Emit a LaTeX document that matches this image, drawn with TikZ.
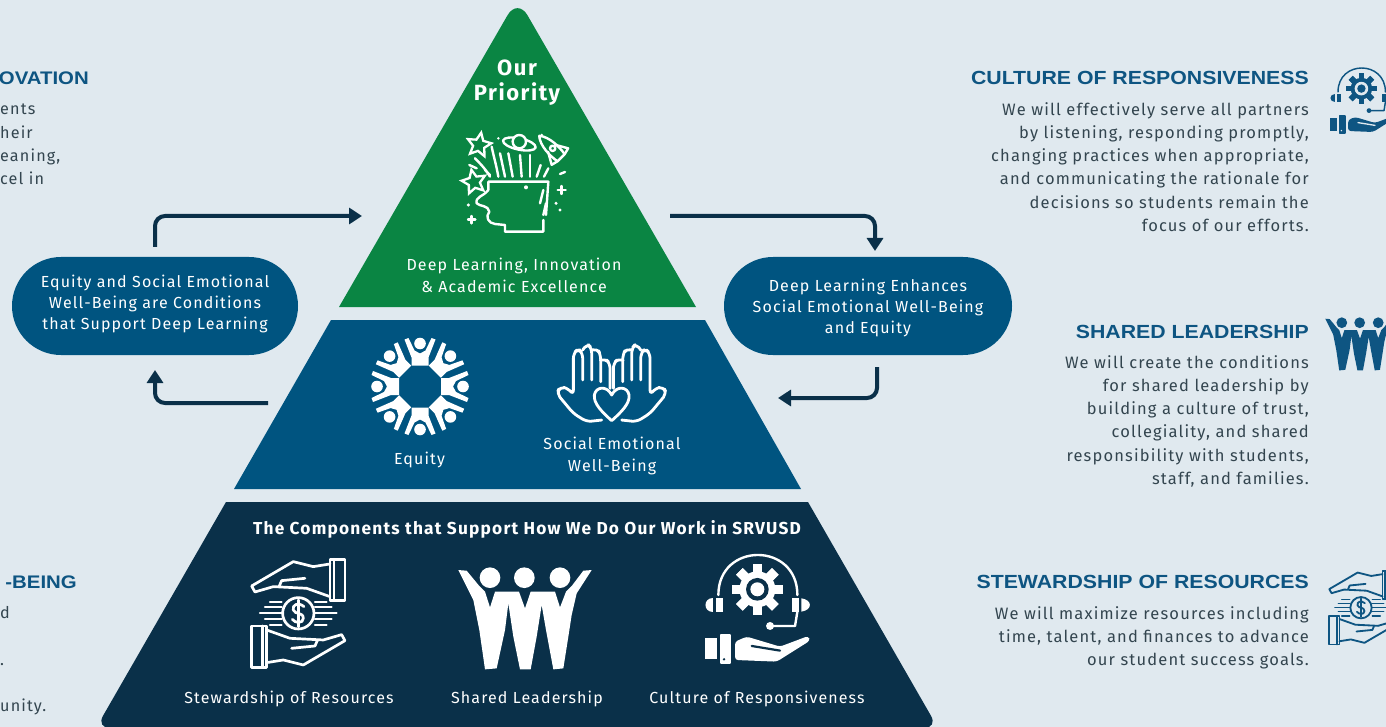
\documentclass[tikz,border=0pt]{standalone}
\usepackage{fontspec}
\usetikzlibrary{arrows.meta,shapes.geometric}
\setmainfont{Fira Sans}[LetterSpace=7]
\newfontfamily\headfont{Liberation Sans}[FakeStretch=1.12]
\definecolor{bgc}{HTML}{E0E9EF}
\definecolor{greenc}{HTML}{0A8543}
\definecolor{bluec}{HTML}{005480}
\definecolor{navyc}{HTML}{0A3049}
\definecolor{headc}{HTML}{0E5582}
\definecolor{bodyc}{HTML}{33454F}
\tikzset{
  headtxt/.style={anchor=base east,inner sep=0pt,text=headc,font=\headfont\bfseries\fontsize{19}{22}\selectfont},
  bodytxt/.style={anchor=north east,inner sep=0pt,align=right,text=bodyc,font=\fontsize{16.5}{23.3}\selectfont},
  fragtxt/.style={anchor=base west,inner sep=0pt,text=bodyc,font=\fontsize{16.2}{23.3}\selectfont},
  lefthead/.style={anchor=base east,inner sep=0pt,text=headc,font=\headfont\bfseries\fontsize{18.2}{22}\selectfont},
  pilltxt/.style={align=center,text=white,inner sep=0pt,font=\fontsize{16}{21}\selectfont},
  wtxt/.style={align=center,text=white,inner sep=0pt,font=\fontsize{16}{22.5}\selectfont},
  pill/.style={fill=bluec,rounded corners=49pt,minimum height=98pt,inner sep=0pt},
  flow/.style={draw=navyc,line width=4pt,rounded corners=10pt,-{Triangle[length=13pt,width=16pt]}},
  ic/.style={line cap=round,line join=round},
  whitestar/.style={star,star points=5,star point ratio=2.1,draw=white,line width=2.3pt,inner sep=0pt,minimum size=25pt}
}
% #1 cx #2 cy #3 scale #4 colour #5 background
\newcommand{\moneyicon}[5]{%
\begin{scope}[shift={(#1,#2)},scale={#3/3},shift={(-205,-190)},ic,draw=#4,line width={#3*2.7pt}]
 \foreach \r in {0,180}{
 \begin{scope}[rotate around={\r:(205,190)}]
  \draw (300,28) rectangle (345,152) (312,28) -- (312,152);
  \draw (300,42) -- (250,50) -- (190,35) -- (65,108) -- (75,126) -- (130,110) -- (230,115) -- (300,140);
  \draw (148,108) -- (155,92) -- (225,85);
 \end{scope}}
 \foreach \y/\l in {155/120,172/105,190/90,208/105,226/120}{
  \draw[line width={#3*2.1pt}] (\l,\y) -- (155,\y) (255,\y) -- (410-\l,\y);}
 \draw (205,190) circle[radius=47];
 \draw (222,170) .. controls (205,155) and (185,165) .. (190,180) .. controls (195,195) and (220,185) .. (220,205) .. controls (220,222) and (195,220) .. (187,208);
 \draw (205,150) -- (205,230);
\end{scope}}
\newcommand{\peopleicon}[5]{%
\begin{scope}[shift={(#1,#2)},scale={#3/3},shift={(-255,-200)}]
 \fill[#4] (55,60) -- (80,62) -- (118,108) -- (135,125) -- (150,172) -- (165,125) -- (237,125) -- (255,175) -- (272,125) -- (345,125) -- (360,172) -- (378,125) -- (395,108) -- (430,62) -- (455,60) -- (410,130) -- (395,195) -- (385,260) -- (370,355) -- (340,358) -- (318,240) -- (305,165) -- (290,260) -- (272,358) -- (240,358) -- (220,260) -- (205,160) -- (195,240) -- (170,355) -- (135,358) -- (118,240) -- (100,150) -- cycle;
 \fill[#4] (150,83) circle[radius=31] (253,83) circle[radius=31] (360,83) circle[radius=31];
\end{scope}}
\newcommand{\headseticon}[5]{%
\begin{scope}[shift={(#1,#2)},scale={#3/3},shift={(-950,-175)},ic]
 \draw[#4,line width={#3*2.4pt}] (835,135) .. controls (835,-25) and (1072,-25) .. (1072,135);
 \foreach \a in {0,45,...,315}{
  \fill[#4,rotate around={\a:(952,118)}] (938,42) rectangle (966,194);}
 \fill[#4] (952,118) circle[radius=54];
 \fill[#5] (952,118) circle[radius=34];
 \fill[#4] (952,118) circle[radius=21];
 \fill[#4] (828,145) rectangle (850,185);
 \fill[#4] (820,145) .. controls (790,145) and (790,185) .. (820,185) -- cycle;
 \fill[#4] (1055,145) rectangle (1077,185);
 \fill[#4] (1084,145) .. controls (1118,150) and (1118,180) .. (1084,185) -- cycle;
 \draw[#4,line width={#3*2.4pt}] (1072,185) -- (1065,228) -- (990,228);
 \fill[#4] (990,228) circle[radius=12];
 \fill[#4] (795,265) rectangle (832,328);
 \draw[#4,line width={#3*2pt},fill=#4] (842,255) rectangle (870,340);
 \fill[#5] (852,328) circle[radius=4];
 \fill[#4,rounded corners=3pt] (885,275) -- (920,260) -- (1020,290) -- (1105,258) -- (1110,272) -- (1010,335) -- (885,330) -- cycle;
 \draw[#5,line width={#3*2.2pt}] (935,288) -- (1020,302);
\end{scope}}
\begin{document}
\begin{tikzpicture}[x=1pt,y=-1pt]
\useasboundingbox (0,0) rectangle (1386,727);
\clip (0,0) rectangle (1386,727);
\fill[bgc] (0,0) rectangle (1386,727);
% pyramid
\fill[greenc] (339,307) [rounded corners=20pt] -- (517.5,-2) [sharp corners] -- (696,307) -- cycle;
\fill[bluec] (331,320) -- (705,320) -- (801,489) -- (234,489) -- cycle;
\fill[navyc] (226,502) -- (808,502) [rounded corners=14pt] -- (938,728) -- (96,728) [sharp corners] -- cycle;
% pills
\node[pill,minimum width=286pt] (pillL) at (155,306) {};
\node[pill,minimum width=288pt] (pillR) at (868,306) {};
\node[pilltxt] (pillLt) at (155,304) {Equity and Social Emotional\\Well-Being are Conditions\\that Support Deep Learning};
\node[pilltxt] (pillRt) at (868,308) {Deep Learning Enhances\\Social Emotional Well-Being\\and Equity};
% connectors
\coordinate (a1) at (155,247);
\coordinate (a1c) at (155,216);
\coordinate (a1e) at (362,216);
\coordinate (a2) at (670,216);
\coordinate (a2c) at (875,216);
\coordinate (a2e) at (875,251);
\coordinate (a3) at (877,367);
\coordinate (a3c) at (877,398);
\coordinate (a3e) at (778,398);
\coordinate (a4) at (268,403);
\coordinate (a4c) at (155,403);
\coordinate (a4e) at (155,370);
\draw[flow] (a1) -- (a1c) -- (a1e);
\draw[flow] (a2) -- (a2c) -- (a2e);
\draw[flow] (a3) -- (a3c) -- (a3e);
\draw[flow] (a4) -- (a4c) -- (a4e);
% top triangle text
\node[text=white,align=center,inner sep=0pt,font=\bfseries\fontsize{22}{25}\selectfont] (prio) at (517,83) {Our\\Priority};
\node[wtxt] (deep) at (514,275.5) {Deep Learning, Innovation\\\& Academic Excellence};
% head icon
\begin{scope}[shift={(420,40)},scale=1/3,ic,draw=white,line width=2.4pt]
 \draw (205,450) -- (205,425) -- (385,425) -- (378,525);
 \draw (205,450) .. controls (190,470) and (165,470) .. (170,490) .. controls (180,500) and (205,495) .. (208,515) .. controls (195,530) and (205,550) .. (225,552) -- (255,555) -- (255,575) -- (370,575) -- (370,540);
 \draw (210,410) .. controls (195,385) and (180,370) .. (165,355);
 \draw (235,410) .. controls (230,380) and (220,345) .. (215,320);
 \draw (255,410) -- (240,340);
 \draw (278,410) -- (265,340);
 \draw (305,410) -- (300,345);
 \draw (330,410) -- (330,345);
 \draw (350,410) -- (362,375);
 \draw (372,410) -- (385,385);
 \draw (148,375) -- (170,385);
 \draw (195,390) -- (210,405);
 \draw (420,402) -- (435,396);
 \draw (298,312) ellipse[x radius=50,y radius=17,rotate=-12];
 \fill[greenc] (298,305) circle[radius=20];
 \draw (298,305) circle[radius=20];
 \draw[rotate around={45:(395,325)}] (395,272) .. controls (375,295) and (375,340) .. (380,365) -- (410,365) .. controls (415,340) and (415,295) .. (395,272);
 \draw[rotate around={45:(395,325)}] (380,325) -- (360,360) -- (380,365) (410,325) -- (430,360) -- (410,365);
 \draw (398,325) circle[radius=8];
 \fill[white] (235,295) circle[radius=4] (365,285) circle[radius=4] (145,495) circle[radius=5] (318,442) circle[radius=6] (408,490) circle[radius=5] (420,510) circle[radius=5];
 \draw (425,438) -- (425,462) (413,450) -- (437,450);
 \draw (155,528) -- (155,550) (144,539) -- (166,539);
 \draw (370,450) -- (360,490) (378,490) -- (370,525);
\end{scope}
\node[whitestar,rotate=-10] (star1) at (479,145) {};
\node[whitestar,rotate=12] (star2) at (474,182) {};
% equity
\begin{scope}[shift={(420,386.5)},ic]
 \foreach \a in {0,45,...,315}{
 \begin{scope}[rotate=\a]
  \fill[white] (0,-43) circle[radius=5.8];
  \fill[white] (-15.5,-47) -- (-11.5,-48.5) -- (-5.5,-36) -- (0,-33) -- (5.5,-36) -- (11.5,-48.5) -- (15.5,-47) -- (8.5,-29) -- (8.5,-21) -- (-8.5,-21) -- (-8.5,-29) -- cycle;
 \end{scope}}
\end{scope}
\node[wtxt] (equity) at (419.5,460) {Equity};
% hands
\begin{scope}[shift={(611.7,386.7)},scale=1/3,ic,draw=white,line width=2.8pt]
 \foreach \s in {1,-1}{
 \begin{scope}[xscale=\s,rounded corners=5pt]
  \draw (-30,100) -- (-75,105) -- (-115,80) -- (-165,20) -- (-155,0) -- (-130,5) -- (-115,25) -- (-115,-100) -- (-100,-115) -- (-87,-100) -- (-87,-20);
  \draw (-87,-110) -- (-73,-130) -- (-60,-115) -- (-60,-20);
  \draw (-60,-110) -- (-43,-115) -- (-33,-95) -- (-33,-15);
  \draw (-33,-80) -- (-20,-85) -- (-5,-70) -- (-5,5);
 \end{scope}}
 \draw (0,102) .. controls (-30,75) and (-55,50) .. (-52,25) .. controls (-48,0) and (-15,-5) .. (0,25) .. controls (15,-5) and (48,0) .. (52,25) .. controls (55,50) and (30,75) .. (0,102) -- cycle;
\end{scope}
\node[wtxt] (sewb) at (612,456) {Social Emotional\\Well-Being};
% bottom
\node[text=white,inner sep=0pt,font=\bfseries\fontsize{17.3}{19}\selectfont] (comp) at (527,529) {The Components that Support How We Do Our Work in SRVUSD};
\moneyicon{298.3}{613.3}{1}{white}{navyc}
\peopleicon{525}{616.7}{1}{white}{navyc}
\headseticon{756.7}{608.3}{1}{white}{navyc}
\node[wtxt] (l1) at (289,699) {Stewardship of Resources};
\node[wtxt] (l2) at (527,699) {Shared Leadership};
\node[wtxt] (l3) at (757,699) {Culture of Responsiveness};
% right column
\node[headtxt] (h1) at (1309,85) {CULTURE OF RESPONSIVENESS};
\node[bodytxt] (b1) at (1309,102) {We will effectively serve all partners\\by listening, responding promptly,\\changing practices when appropriate,\\and communicating the rationale for\\decisions so students remain the\\focus of our efforts.};
\node[headtxt] (h2) at (1309,338) {SHARED LEADERSHIP};
\node[bodytxt] (b2) at (1309,355) {We will create the conditions\\for shared leadership by\\building a culture of trust,\\collegiality, and shared\\responsibility with students,\\staff, and families.};
\node[headtxt] (h3) at (1309,588) {STEWARDSHIP OF RESOURCES};
\node[bodytxt] (b3) at (1309,606) {We will maximize resources including\\time, talent, and finances to advance\\our student success goals.};
\headseticon{1361}{100}{0.6}{headc}{bgc}
\peopleicon{1360}{343}{0.52}{headc}{bgc}
\moneyicon{1361}{607.7}{0.68}{headc}{bgc}
% left fragments
\node[lefthead] (lh1) at (89,85) {OVATION};
\node[fragtxt] (f1) at (0,115) {ents};
\node[fragtxt] (f2) at (0,138.5) {heir};
\node[fragtxt] (f3) at (0,161.5) {eaning,};
\node[fragtxt] (f4) at (0,185) {cel in};
\node[lefthead] (lh2) at (77,588) {-BEING};
\node[fragtxt] (f5) at (0,618.5) {d};
\node[fragtxt] (f6) at (0,665.5) {.};
\node[fragtxt] (f7) at (0,711.5) {unity.};
\end{tikzpicture}
\end{document}
